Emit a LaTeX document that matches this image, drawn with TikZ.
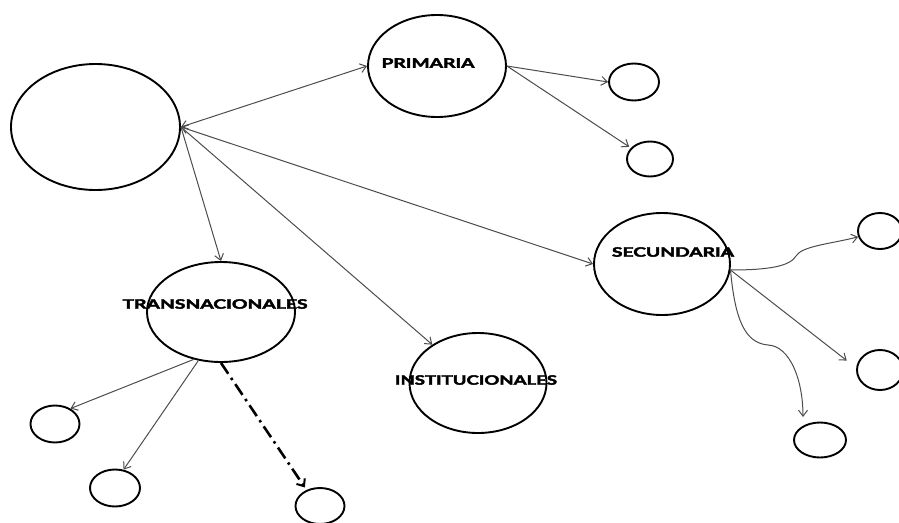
\documentclass[tikz,border=0pt]{standalone}
\usepackage{fontspec}
\setmainfont{Lato}
\newfontfamily\heavyfont[FakeBold=2.5]{Lato}[UprightFont={* Bold}]
\usepackage{graphicx}
\usetikzlibrary{shapes.geometric,arrows.meta}
\begin{document}
\begin{tikzpicture}[x=1pt,y=-1pt,
  bub/.style={draw=black,line width=1.9pt,ellipse,inner sep=0pt,minimum width=#1},
  lbl/.style={inner sep=0pt,font=\heavyfont},
  con/.style={draw=black!70,line width=1pt,-{Straight Barb[length=6pt,width=9pt]}},
  bicon/.style={draw=black!70,line width=1pt,{Straight Barb[length=6pt,width=9pt]}-{Straight Barb[length=6pt,width=9pt]}},
  dd/.style={draw=black,line width=2.6pt,dash pattern=on 13pt off 5pt on 2.5pt off 5pt,-{Straight Barb[length=6pt,width=10pt,line width=2pt]}}]
\useasboundingbox (0,0) rectangle (899,522);
% main bubbles
\node[bub=169pt,minimum height=126pt] (big) at (95.5,127) {};
\node[bub=138pt,minimum height=102pt] (prim) at (437,66) {};
\node[bub=136pt,minimum height=102pt] (sec) at (662,264) {};
\node[bub=148pt,minimum height=100pt] (trans) at (221,312) {};
\node[bub=137pt,minimum height=100pt] (inst) at (478,383) {};
% labels
\node[lbl] (lprim) at (428,63) {\resizebox{93pt}{9.5pt}{PRIMARIA}};
\node[lbl] (lsec) at (673,252) {\resizebox{122pt}{9.5pt}{SECUNDARIA}};
\node[lbl] (ltrans) at (215,304) {\resizebox{185pt}{9.5pt}{TRANSNACIONALES}};
\node[lbl] (linst) at (476,380) {\resizebox{162pt}{9.5pt}{INSTITUCIONALES}};
% small bubbles
\node[bub=50pt,minimum height=37pt] (p1) at (634,82) {};
\node[bub=46pt,minimum height=35pt] (p2) at (650,159) {};
\node[bub=44pt,minimum height=36pt] (s1) at (880,231) {};
\node[bub=46pt,minimum height=40pt] (s2) at (880,370) {};
\node[bub=52pt,minimum height=35pt] (s3) at (820,440) {};
\node[bub=49pt,minimum height=37pt] (t1) at (55,424) {};
\node[bub=50pt,minimum height=37pt] (t2) at (115,488) {};
\node[bub=49pt,minimum height=36pt] (t3) at (320,506) {};
% connectors from big
\draw[bicon] (big.east) -- (prim.west);
\draw[bicon] (big.east) -- (sec.west);
\draw[con] (big.east) -- (inst.140);
\draw[con] (big.east) -- (trans.north);
% primaria
\draw[con] (prim.east) -- (p1.west);
\draw[con,shorten >=2pt] (prim.east) -- (p2.150);
% secundaria
\coordinate (k1) at (796,256);
\coordinate (k2) at (768,345);
\draw[con] (sec.-5) .. controls (770,270) and (790,266) .. (k1) .. controls (802,246) and (830,244) .. (s1.195);
\draw[con,shorten >=12pt] (sec.-5) -- (s2.175);
\draw[con] (sec.-5) .. controls (735,320) and (745,343) .. (k2) .. controls (790,346) and (803,380) .. (803,417);
% transnacionales
\draw[con] (trans.240) -- (t1.45);
\draw[con] (trans.245) -- (t2.65);
\draw[dd,shorten >=3pt] (trans.south) -- (t3.130);
\end{tikzpicture}
\end{document}
